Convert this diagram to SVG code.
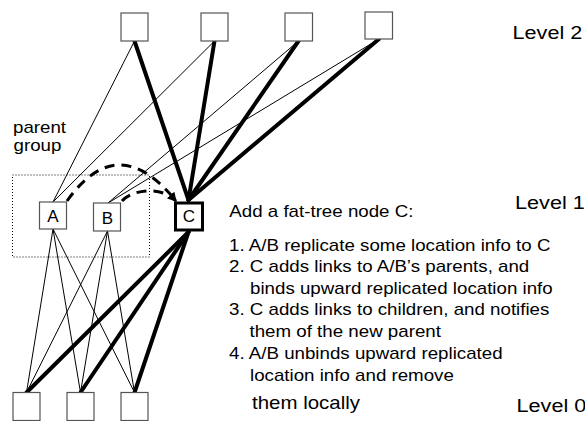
<svg xmlns="http://www.w3.org/2000/svg" width="585" height="421" viewBox="0 0 585 421">
  <style>
    .box { fill: #fff; stroke: #555; stroke-width: 1.2; }
    .boxc { fill: #fff; stroke: #000; stroke-width: 3; }
    .thin { stroke: #000; stroke-width: 1; fill: none; }
    .fat { stroke: #000; stroke-width: 4; fill: none; stroke-linecap: round; }
    .move { stroke: #000; stroke-width: 3; fill: none; stroke-dasharray: 10 7; }
    .grp { fill: none; stroke: #000; stroke-width: 1; stroke-dasharray: 1 2; }
    text { font-family: "Liberation Sans", Arial, sans-serif; fill: #000; }
    .t { font-size: 16px; }
    .lv { font-size: 18.5px; }
    .nl { font-size: 17px; text-anchor: middle; }
  </style>
  <defs>
    <marker id="arr" viewBox="0 0 10 10" refX="9" refY="5" markerWidth="3" markerHeight="3" orient="auto" markerUnits="strokeWidth">
      <path d="M0,0 L10,5 L0,10 z" fill="#000"/>
    </marker>
  </defs>

  <!-- parent group outline -->
  <rect class="grp" x="12.5" y="175" width="137" height="82"/>
  <text class="t" transform="translate(13 132.5) scale(1.17 1)">parent</text>
  <text class="t" transform="translate(13.5 151) scale(1.17 1)">group</text>

  <!-- links -->
  <g id="connectors">
    <!-- level 2 to level 1 -->
    <line class="thin" x1="134.5" y1="41" x2="53" y2="202"/>
    <line class="thin" x1="214.5" y1="41" x2="53" y2="202"/>
    <line class="thin" x1="298.5" y1="41" x2="108" y2="203"/>
    <line class="thin" x1="379" y1="39" x2="108" y2="203"/>
    <line class="fat" x1="134.5" y1="41" x2="188.5" y2="200"/>
    <line class="fat" x1="214.5" y1="41" x2="188.5" y2="200"/>
    <line class="fat" x1="298.5" y1="41" x2="188.5" y2="200"/>
    <line class="fat" x1="379" y1="39" x2="188.5" y2="200"/>
    <!-- level 1 to level 0 -->
    <line class="thin" x1="53" y1="229" x2="26.5" y2="392.5"/>
    <line class="thin" x1="53" y1="229" x2="80.5" y2="392.5"/>
    <line class="thin" x1="53" y1="229" x2="134.5" y2="392.5"/>
    <line class="thin" x1="107.5" y1="231" x2="26.5" y2="392.5"/>
    <line class="thin" x1="107.5" y1="231" x2="80.5" y2="392.5"/>
    <line class="thin" x1="107.5" y1="231" x2="134.5" y2="392.5"/>
    <line class="fat" x1="188.5" y1="232" x2="26.5" y2="392.5"/>
    <line class="fat" x1="188.5" y1="232" x2="80.5" y2="392.5"/>
    <line class="fat" x1="188.5" y1="232" x2="134.5" y2="392.5"/>
    <!-- replication of location info to C -->
    <path class="move" d="M67,201 Q118,129 176,201" marker-end="url(#arr)"/>
    <path class="move" d="M122,201 C132,190 160,185 176,201" marker-end="url(#arr)"/>
  </g>

  <!-- level 2 -->
  <g id="top1"><rect class="box" x="121" y="13" width="27" height="28"/></g>
  <g id="top2"><rect class="box" x="201" y="13" width="27" height="28"/></g>
  <g id="top3"><rect class="box" x="285" y="13" width="27.5" height="28"/></g>
  <g id="top4"><rect class="box" x="365" y="12" width="27.5" height="27"/></g>

  <!-- level 1 -->
  <g id="nodeA">
    <rect class="box" x="39.5" y="202" width="27" height="27"/>
    <text class="nl" x="53" y="222">A</text>
  </g>
  <g id="nodeB">
    <rect class="box" x="93.5" y="203" width="27" height="28"/>
    <text class="nl" x="107.5" y="224">B</text>
  </g>
  <g id="nodeC">
    <rect class="boxc" x="175.5" y="203" width="27" height="27"/>
    <text class="nl" x="189" y="222">C</text>
  </g>

  <!-- level 0 -->
  <g id="leaf1"><rect class="box" x="13" y="392.5" width="27" height="28"/></g>
  <g id="leaf2"><rect class="box" x="67" y="392.5" width="27" height="28"/></g>
  <g id="leaf3"><rect class="box" x="121" y="392.5" width="27" height="28"/></g>

  <!-- level labels -->
  <text class="lv" transform="translate(512.5 38.5) scale(1.17 1)">Level 2</text>
  <text class="lv" transform="translate(515 208.5) scale(1.17 1)">Level 1</text>
  <text class="lv" transform="translate(516.5 411.5) scale(1.17 1)">Level 0</text>

  <!-- procedure -->
  <g id="steps">
    <text class="t" transform="translate(229.3 217.3) scale(1.17 1)">Add a fat-tree node C:</text>
    <text class="t" transform="translate(229 250.5) scale(1.17 1)">1. A/B replicate some location info to C</text>
    <text class="t" transform="translate(229 272) scale(1.17 1)">2. C adds links to A/B’s parents, and</text>
    <text class="t" transform="translate(250 293.5) scale(1.17 1)">binds upward replicated location info</text>
    <text class="t" transform="translate(229 315) scale(1.17 1)">3. C adds links to children, and notifies</text>
    <text class="t" transform="translate(249.5 337) scale(1.17 1)">them of the new parent</text>
    <text class="t" transform="translate(229 359) scale(1.17 1)">4. A/B unbinds upward replicated</text>
    <text class="t" transform="translate(250 380.5) scale(1.17 1)">location info and remove</text>
    <text class="t" style="font-size:17.5px" transform="translate(252 409) scale(1.17 1)">them locally</text>
  </g>
</svg>
